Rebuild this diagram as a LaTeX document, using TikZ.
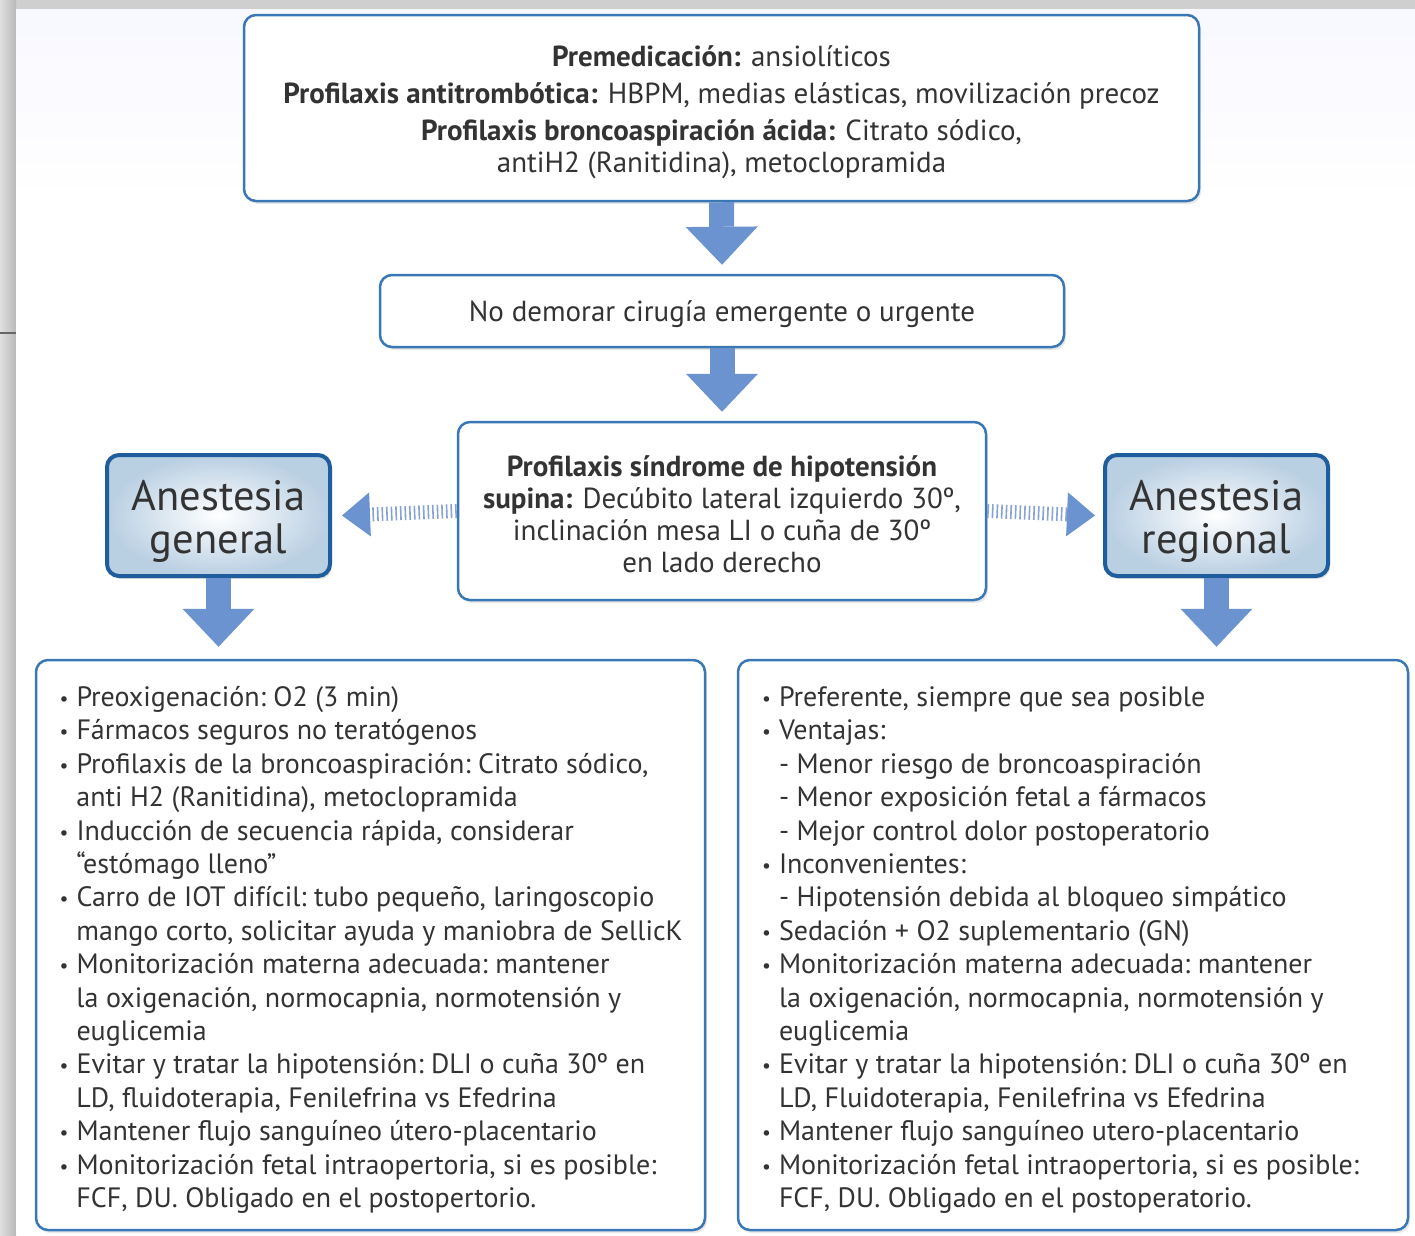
\documentclass[tikz,border=0pt]{standalone}
\usepackage{fontspec}
\setmainfont{PT Sans}
\usetikzlibrary{arrows.meta,shadows}

\definecolor{boxblue}{HTML}{3A78B5}
\definecolor{darkblue}{HTML}{1F5E9C}
\definecolor{arrowblue}{HTML}{6B93D0}
\definecolor{tickblue}{HTML}{86A3D2}
\definecolor{txtgray}{HTML}{333333}
\definecolor{shadeblue}{HTML}{B9CFE2}
\definecolor{pagegray}{HTML}{CFCFCF}

\newcommand\bul{\makebox[17pt][l]{\raisebox{1pt}{\scalebox{0.7}{\textbullet}}}}
\newcommand\ind{\hspace*{17pt}}

\tikzset{
  infobox/.style={draw=boxblue, line width=2.5pt, rounded corners=12pt, fill=white,
    text=txtgray, align=center, inner sep=0pt, font=\fontsize{29}{32}\selectfont,
    drop shadow={opacity=0.18, shadow xshift=2pt, shadow yshift=-3pt}},
  listbox/.style={infobox, align=flush left, inner xsep=4.5pt, text width=660pt,
    font=\fontsize{28}{33.4}\selectfont\frenchspacing},
  typebox/.style={draw=darkblue, line width=4pt, rounded corners=12pt,
    inner color=white, outer color=shadeblue, text=txtgray, align=center,
    inner sep=0pt, font=\fontsize{42.5}{43}\selectfont,
    drop shadow={opacity=0.25, shadow xshift=2pt, shadow yshift=-3pt}},
  bigarrow/.style={draw=arrowblue, line width=25pt,
    -{Triangle[width=72pt, length=38pt, line width=0pt]}},
  tickarrow/.style={draw=tickblue, line width=14pt, dash pattern=on 1.6pt off 3pt,
    -{Triangle[width=44pt, length=28pt, line width=0pt, color=arrowblue]}}
}

\begin{document}
\begin{tikzpicture}[x=1pt, y=-1pt]
  \useasboundingbox (0,0) rectangle (1415,1235);
  % page and its frame
  \fill[pagegray] (0,0) rectangle (1415,1235);
  \shade[left color=gray!25, right color=gray!55] (0,0) rectangle (16,1235);
  \fill[white] (16,9) rectangle (1415,1235);
  \shade[top color=blue!3!white, bottom color=white] (16,9) rectangle (1415,200);
  \draw[gray!80!black, line width=1.2pt] (0,333) -- (16,333);

  \node [infobox, minimum width=955, minimum height=186] (premed) at (721.5,108)
    {\rule{0pt}{30pt}\textbf{Premedicación:} ansiolíticos\\[5pt]
     \textbf{Profilaxis antitrombótica:} HBPM, medias elásticas, movilización precoz\\[5pt]
     \textbf{Profilaxis broncoaspiración ácida:} Citrato sódico,\\
     antiH2 (Ranitidina), metoclopramida};
  \node [infobox, minimum width=684, minimum height=72] (urgent) at (722,311)
    {\rule{0pt}{28pt}No demorar cirugía emergente o urgente};
  \node [infobox, minimum width=528, minimum height=178] (supina) at (722,511)
    {\rule{0pt}{27pt}\textbf{Profilaxis síndrome de hipotensión}\\
     \textbf{supina:} Decúbito lateral izquierdo 30º,\\
     inclinación mesa LI o cuña de 30º\\
     en lado derecho};
  \node [typebox, minimum width=223, minimum height=121] (general) at (218.5,515.5)
    {\rule{0pt}{42pt}Anestesia\\general};
  \node [typebox, minimum width=223, minimum height=121] (regional) at (1216.5,515.5)
    {\rule{0pt}{42pt}Anestesia\\regional};

  \node [listbox, minimum width=669, minimum height=570] (listgen) at (370.5,945)
    {\leftskip=19pt
     \rule{0pt}{30pt}\bul Preoxigenación: O2 (3 min)\\
     \bul Fármacos seguros no teratógenos\\
     \bul Profilaxis de la broncoaspiración: Citrato sódico,\\
     \ind anti H2 (Ranitidina), metoclopramida\\
     \bul Inducción de secuencia rápida, considerar\\
     \ind “estómago lleno”\\
     \bul Carro de IOT difícil: tubo pequeño, laringoscopio\\
     \ind mango corto, solicitar ayuda y maniobra de SellicK\\
     \bul Monitorización materna adecuada: mantener\\
     \ind la oxigenación, normocapnia, normotensión y\\
     \ind euglicemia\\
     \bul Evitar y tratar la hipotensión: DLI o cuña 30º en\\
     \ind LD, fluidoterapia, Fenilefrina vs Efedrina\\
     \bul Mantener flujo sanguíneo útero-placentario\\
     \bul Monitorización fetal intraopertoria, si es posible:\\
     \ind FCF, DU. Obligado en el postopertorio.\par};
  \node [listbox, minimum width=670, minimum height=570] (listreg) at (1073,945)
    {\leftskip=19pt
     \rule{0pt}{30pt}\bul Preferente, siempre que sea posible\\
     \bul Ventajas:\\
     \ind - Menor riesgo de broncoaspiración\\
     \ind - Menor exposición fetal a fármacos\\
     \ind - Mejor control dolor postoperatorio\\
     \bul Inconvenientes:\\
     \ind - Hipotensión debida al bloqueo simpático\\
     \bul Sedación + O2 suplementario (GN)\\
     \bul Monitorización materna adecuada: mantener\\
     \ind la oxigenación, normocapnia, normotensión y\\
     \ind euglicemia\\
     \bul Evitar y tratar la hipotensión: DLI o cuña 30º en\\
     \ind LD, Fluidoterapia, Fenilefrina vs Efedrina\\
     \bul Mantener flujo sanguíneo utero-placentario\\
     \bul Monitorización fetal intraopertoria, si es posible:\\
     \ind FCF, DU. Obligado en el postoperatorio.\par};

  % connectors
  \draw [bigarrow] (premed.south) -- ([yshift=9pt]urgent.north);
  \draw [bigarrow] (urgent.south) -- ([yshift=9pt]supina.north);
  \draw [tickarrow] (supina.west) -- ([xshift=10pt]general.east);
  \draw [tickarrow] (supina.east) -- ([xshift=-8pt]regional.west);
  \draw [bigarrow] (general.south) -- ([yshift=12pt]listgen.north-|general.south);
  \draw [bigarrow] (regional.south) -- ([yshift=12pt]listreg.north-|regional.south);
\end{tikzpicture}
\end{document}
